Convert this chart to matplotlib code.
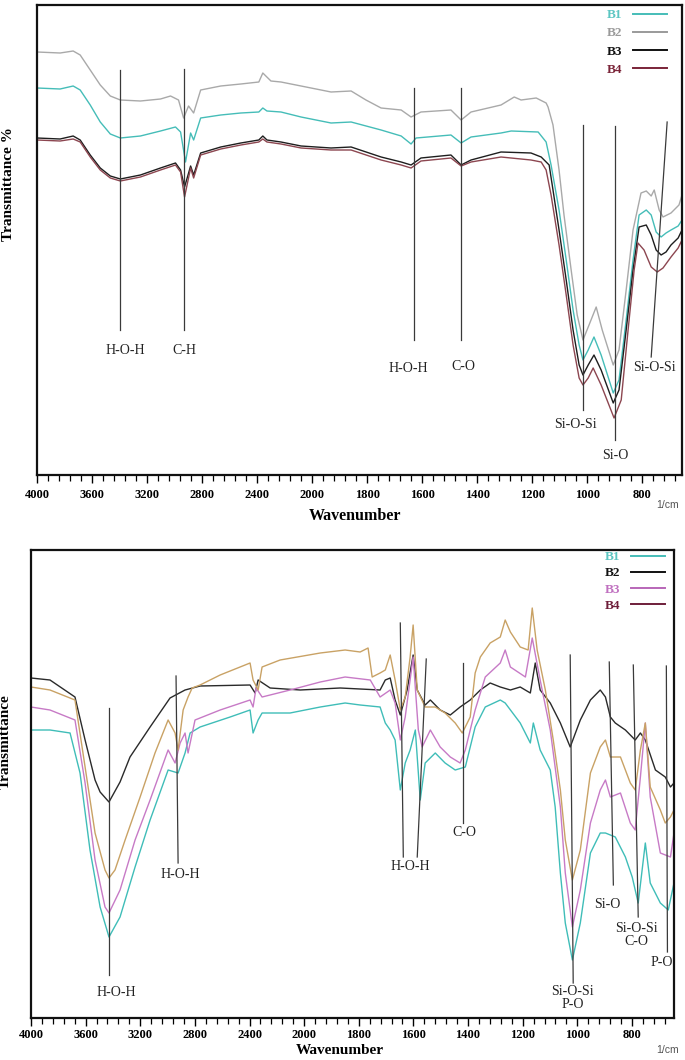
import numpy as np
import matplotlib
matplotlib.use("Agg")
import matplotlib.pyplot as plt
from matplotlib.lines import Line2D

plt.rcParams['font.family'] = ['Liberation Serif', 'DejaVu Serif']

# ---------------- Top panel data (wavenumber, transmittance a.u.) ----------------
top_wn_B1 = [4000, 3832, 3737, 3686, 3613, 3540, 3467, 3394, 3248, 3102,
             2993, 2956, 2920, 2883, 2861, 2810, 2664, 2518, 2387, 2358,
             2328, 2226, 2080, 1931, 1858, 1749, 1676, 1640, 1622, 1495,
             1458, 1422, 1313, 1276, 1178, 1149, 1131, 1102, 1076, 1051,
             1029, 1015, 996, 975, 949, 905, 884, 858, 833, 811,
             785, 767, 749, 731, 713, 695, 669, 655]
top_T_B1 = [82.4, 82.2, 82.8, 82.0, 79.0, 75.6, 73.2, 72.4, 72.8, 73.8,
            74.6, 73.6, 67.6, 73.4, 72.0, 76.4, 77.0, 77.4, 77.6, 78.4,
            77.8, 77.6, 76.6, 75.4, 75.6, 74.0, 72.8, 71.2, 72.4, 73.0,
            71.4, 72.6, 73.4, 73.8, 73.6, 71.6, 67.0, 58.0, 48.0, 38.0,
            31.0, 28.0, 30.0, 32.6, 29.0, 21.4, 24.0, 36.0, 48.0, 57.0,
            58.0, 57.0, 53.6, 52.6, 53.4, 54.0, 54.8, 56.0]

top_wn_B2 = [4000, 3832, 3737, 3686, 3613, 3540, 3467, 3394, 3248, 3102,
             3029, 2971, 2934, 2898, 2861, 2810, 2664, 2518, 2387, 2358,
             2336, 2299, 2226, 2080, 1931, 1858, 1804, 1749, 1676, 1640,
             1604, 1495, 1458, 1422, 1313, 1265, 1240, 1185, 1149, 1142,
             1124, 1102, 1084, 1058, 1036, 1015, 993, 967, 945, 905,
             884, 858, 833, 804, 785, 767, 756, 738, 724, 695,
             666, 655]
top_T_B2 = [89.6, 89.4, 89.8, 89.0, 86.0, 83.0, 80.8, 80.0, 79.8, 80.2,
            80.8, 80.0, 76.4, 78.8, 77.4, 82.0, 82.8, 83.2, 83.6, 85.4,
            84.8, 83.8, 83.6, 82.8, 81.6, 81.8, 80.0, 78.4, 78.0, 76.6,
            77.6, 78.0, 76.0, 77.6, 79.0, 80.6, 80.0, 80.4, 79.4, 78.6,
            75.0, 66.0, 57.0, 46.0, 37.0, 32.0, 35.0, 38.6, 34.0, 27.0,
            30.0, 42.0, 54.0, 61.4, 61.8, 60.8, 62.0, 58.0, 56.6, 57.4,
            59.0, 61.0]

top_wn_B3 = [4000, 3832, 3737, 3686, 3613, 3540, 3467, 3394, 3248, 3102,
             2993, 2956, 2927, 2883, 2861, 2810, 2664, 2518, 2387, 2358,
             2328, 2226, 2080, 1931, 1858, 1749, 1676, 1640, 1604, 1495,
             1458, 1422, 1313, 1204, 1167, 1138, 1124, 1102, 1076, 1051,
             1029, 1015, 996, 975, 949, 905, 884, 858, 833, 811,
             785, 767, 749, 731, 713, 695, 669, 655]
top_T_B3 = [72.4, 72.2, 72.8, 72.0, 69.0, 66.4, 64.8, 64.2, 65.0, 66.4,
            67.4, 66.0, 62.6, 66.8, 65.0, 69.4, 70.6, 71.4, 72.0, 72.8,
            72.0, 71.6, 70.8, 70.4, 70.6, 68.6, 67.6, 67.0, 68.4, 69.0,
            67.0, 68.0, 69.6, 69.4, 68.6, 67.0, 62.0, 54.0, 44.0, 34.0,
            27.0, 25.0, 27.0, 29.0, 26.0, 19.4, 22.0, 34.0, 46.0, 54.6,
            55.0, 53.0, 50.0, 49.0, 49.6, 51.0, 52.4, 54.0]

top_wn_B4 = [4000, 3832, 3737, 3686, 3613, 3540, 3467, 3394, 3248, 3102,
             2993, 2956, 2927, 2883, 2861, 2810, 2664, 2518, 2387, 2358,
             2328, 2226, 2080, 1931, 1858, 1749, 1676, 1640, 1604, 1495,
             1458, 1422, 1313, 1204, 1167, 1149, 1131, 1102, 1076, 1051,
             1029, 1015, 996, 978, 949, 902, 876, 851, 829, 815,
             793, 767, 745, 724, 695, 669, 655]
top_T_B4 = [72.0, 71.8, 72.2, 71.6, 68.6, 66.0, 64.4, 63.8, 64.6, 66.0,
            67.0, 65.6, 60.6, 66.4, 64.4, 69.0, 70.2, 71.0, 71.6, 72.2,
            71.6, 71.2, 70.4, 70.0, 70.0, 68.0, 67.0, 66.4, 67.8, 68.4,
            66.8, 67.6, 68.6, 68.0, 67.6, 66.0, 61.0, 51.0, 41.0, 31.0,
            24.4, 23.0, 24.4, 26.4, 23.0, 16.4, 20.0, 34.0, 46.0, 51.4,
            50.0, 46.6, 45.6, 46.4, 48.6, 50.4, 52.0]

# ---------------- Bottom panel data ----------------
bot_wn_B1 = [4000, 3861, 3714, 3641, 3568, 3494, 3429, 3348, 3238, 3128,
             2996, 2923, 2872, 2835, 2762, 2542, 2396, 2374, 2337, 2308,
             2103, 1941, 1850, 1795, 1722, 1703, 1685, 1667, 1648, 1630,
             1612, 1593, 1575, 1557, 1520, 1484, 1447, 1410, 1374, 1337,
             1282, 1264, 1209, 1172, 1161, 1136, 1099, 1081, 1062, 1044,
             1018, 989, 952, 916, 897, 861, 824, 799, 777, 751,
             733, 696, 667, 646]
bot_T_B1 = [66.0, 66.0, 65.4, 57.4, 42.0, 30.6, 24.6, 28.6, 38.6, 48.0,
            58.0, 57.4, 61.4, 65.4, 66.6, 68.6, 70.0, 65.4, 68.0, 69.4,
            69.4, 70.6, 71.4, 71.0, 70.6, 67.4, 66.0, 64.0, 54.0, 59.4,
            62.0, 66.0, 52.0, 59.4, 61.4, 59.4, 58.0, 58.6, 66.6, 70.6,
            72.0, 71.4, 67.4, 63.4, 67.4, 62.0, 58.0, 50.6, 37.4, 27.4,
            20.0, 27.4, 41.4, 45.4, 45.4, 44.6, 40.6, 36.6, 31.4, 43.4,
            35.4, 31.4, 30.0, 35.4]

bot_wn_B2 = [4000, 3861, 3678, 3604, 3531, 3494, 3429, 3348, 3275, 3128,
             2982, 2872, 2762, 2396, 2359, 2337, 2249, 2029, 1868, 1722,
             1703, 1685, 1667, 1648, 1623, 1601, 1586, 1557, 1538, 1502,
             1465, 1429, 1392, 1355, 1319, 1282, 1245, 1209, 1172, 1154,
             1136, 1099, 1062, 1026, 989, 952, 916, 897, 879, 861,
             824, 788, 769, 751, 714, 678, 659, 646]
bot_T_B2 = [76.4, 76.0, 72.6, 64.0, 56.0, 53.6, 51.6, 55.6, 60.6, 66.6,
            72.4, 74.0, 74.8, 75.0, 73.4, 76.0, 74.4, 74.0, 74.4, 74.0,
            76.0, 76.4, 72.0, 69.0, 74.0, 81.0, 74.0, 71.0, 72.0, 70.0,
            69.0, 70.6, 72.0, 74.0, 75.4, 74.6, 74.0, 74.6, 73.4, 79.4,
            74.0, 71.4, 67.4, 62.6, 68.0, 72.0, 74.0, 72.6, 68.6, 67.4,
            66.0, 64.0, 65.4, 64.0, 58.0, 56.6, 54.6, 55.4]

bot_wn_B3 = [4000, 3861, 3678, 3604, 3531, 3458, 3429, 3348, 3238, 3128,
             2996, 2945, 2908, 2872, 2850, 2799, 2615, 2396, 2374, 2352,
             2308, 2103, 1941, 1850, 1758, 1722, 1685, 1667, 1648, 1630,
             1601, 1582, 1568, 1538, 1502, 1465, 1429, 1410, 1374, 1337,
             1282, 1264, 1245, 1190, 1165, 1136, 1099, 1062, 1044, 1018,
             989, 952, 916, 897, 879, 842, 806, 788, 769, 751,
             733, 696, 659, 646]
bot_T_B3 = [70.6, 70.0, 68.0, 55.4, 40.0, 30.6, 29.4, 34.0, 44.0, 52.0,
            62.0, 59.4, 63.4, 65.4, 61.4, 68.0, 70.0, 72.0, 70.6, 74.4,
            72.6, 74.0, 75.6, 76.6, 76.0, 72.6, 74.0, 71.4, 64.0, 68.6,
            80.6, 66.0, 62.6, 66.0, 62.6, 60.6, 59.4, 62.0, 70.0, 76.6,
            79.4, 82.0, 78.6, 76.6, 84.4, 76.0, 66.0, 50.6, 37.4, 26.6,
            34.0, 47.4, 54.0, 56.0, 52.6, 53.4, 47.4, 46.0, 56.6, 67.4,
            52.6, 41.4, 40.6, 45.4]

bot_wn_B4 = [4000, 3861, 3678, 3604, 3531, 3458, 3429, 3385, 3311, 3201,
             3092, 2996, 2945, 2923, 2886, 2850, 2820, 2762, 2615, 2469,
             2396, 2374, 2337, 2308, 2176, 1941, 1850, 1795, 1766, 1751,
             1722, 1703, 1685, 1667, 1648, 1630, 1612, 1601, 1586, 1557,
             1520, 1484, 1447, 1421, 1392, 1374, 1355, 1319, 1282, 1264,
             1245, 1209, 1180, 1165, 1147, 1117, 1088, 1062, 1044, 1018,
             989, 952, 916, 897, 879, 842, 806, 788, 769, 751,
             733, 696, 678, 659, 646]
bot_T_B4 = [74.6, 74.0, 72.0, 58.6, 45.4, 38.0, 36.4, 38.0, 44.0, 52.6,
            61.4, 68.0, 65.4, 62.0, 70.0, 72.6, 74.4, 75.0, 77.0, 78.6,
            79.4, 76.0, 74.0, 78.6, 80.0, 81.4, 82.0, 81.6, 82.4, 76.6,
            77.4, 78.0, 81.0, 76.0, 70.0, 72.6, 80.6, 87.0, 74.0, 70.6,
            70.6, 69.4, 67.4, 65.4, 68.6, 77.4, 80.6, 83.4, 84.6, 88.0,
            85.6, 82.6, 82.0, 90.4, 82.0, 74.0, 64.0, 54.0, 44.0, 36.0,
            42.0, 57.4, 62.6, 64.0, 60.6, 60.6, 55.4, 54.0, 62.0, 67.4,
            54.6, 50.0, 47.4, 48.6, 50.0]

# ---------------- Labels / ticks ----------------
series_labels = ["B1", "B2", "B3", "B4"]
major_ticks = [4000, 3600, 3200, 2800, 2400, 2000, 1800, 1600, 1400, 1200, 1000, 800]

# band markers: (label, wn_top, T_top, wn_bottom, T_bottom, label_wn, label_T)
top_bands = [
    ("H-O-H", 3394, 86.0, 3394, 34.0, 3357, 30.0),
    ("C-H", 2934, 86.2, 2934, 34.0, 2927, 30.0),
    ("H-O-H", 1629, 82.4, 1629, 32.0, 1651, 26.4),
    ("C-O", 1458, 82.4, 1458, 32.0, 1451, 26.8),
    ("Si-O-Si", 1015, 75.0, 1015, 18.0, 1044, 15.2),
    ("Si-O", 898, 74.8, 898, 12.0, 898, 9.0),
    ("Si-O-Si", 709, 75.6, 767, 28.6, 756, 26.6),
]
bot_bands = [
    ("H-O-H", 3429, 70.4, 3429, 17.0, 3377, 13.6),
    ("H-O-H", 2938, 76.8, 2923, 39.4, 2908, 37.0),
    ("", 1648, 87.4, 1637, 40.6, 1612, 38.6),
    ("H-O-H", 1553, 80.2, 1586, 40.6, 1612, 38.6),
    ("C-O", 1418, 79.4, 1418, 47.4, 1414, 45.4),
    ("Si-O-Si\nP-O", 1026, 81.0, 1015, 15.4, 1018, 12.4),
    ("Si-O", 883, 79.6, 868, 35.0, 890, 31.2),
    ("Si-O-Si\nC-O", 795, 79.0, 777, 28.6, 784, 25.0),
    ("P-O", 674, 78.8, 670, 21.6, 690, 19.4),
]

top_curve_colors = ["#45bdb8", "#a9a9a9", "#1e1e1e", "#8c4650"]
top_text_colors = ["#5cc6c2", "#9a9a9a", "#111111", "#7a2438"]
top_handle_colors = ["#45bdb8", "#9a9a9a", "#111111", "#7a2438"]
bot_curve_colors = ["#3fbdb8", "#2a2a2a", "#c77ac6", "#c9a265"]
bot_text_colors = ["#5cc6c2", "#111111", "#c070c0", "#6e1e3a"]
bot_handle_colors = ["#45bdb8", "#111111", "#b866b8", "#6e1e3a"]


def fwd(w):
    w = np.asarray(w, dtype=float)
    return np.where(w >= 2000, (w - 2000) / 400.0, (w - 2000) / 200.0)


def inv(u):
    u = np.asarray(u, dtype=float)
    return np.where(u >= 0, u * 400.0 + 2000, u * 200.0 + 2000)


fig = plt.figure(figsize=(6.85, 10.6), dpi=100)
ax1 = fig.add_axes([37 / 685, 1 - 475 / 1060, 645 / 685, 470 / 1060])
ax2 = fig.add_axes([31 / 685, 1 - 1018 / 1060, 643 / 685, 468 / 1060])

minor_ticks = list(np.arange(4000, 2000, -80)) + list(np.arange(2000, 640, -40))


def setup(ax, xmax_end, ylim, pad):
    ax.set_xscale('function', functions=(fwd, inv))
    ax.set_xlim(4000, xmax_end)
    ax.set_ylim(*ylim)
    ax.set_xticks(major_ticks)
    ax.set_xticks([t for t in minor_ticks if t >= xmax_end and t not in major_ticks], minor=True)
    ax.set_xticklabels([str(t) for t in major_ticks], fontweight='bold', fontsize=9)
    ax.tick_params(axis='x', which='major', direction='out', length=6, width=1.0, pad=pad)
    ax.tick_params(axis='x', which='minor', direction='out', length=4, width=0.9)
    ax.set_yticks([])
    for s in ax.spines.values():
        s.set_linewidth(1.6)
        s.set_color('#111111')


setup(ax1, 655, (5.0, 99.0), 4)
setup(ax2, 646, (8.4, 102.0), 2)

top_series = [(top_wn_B1, top_T_B1), (top_wn_B2, top_T_B2), (top_wn_B3, top_T_B3), (top_wn_B4, top_T_B4)]
for (wn, t), c in zip(top_series, top_curve_colors):
    ax1.plot(wn, t, color=c, lw=1.0)

bot_series = [(bot_wn_B1, bot_T_B1), (bot_wn_B2, bot_T_B2), (bot_wn_B3, bot_T_B3), (bot_wn_B4, bot_T_B4)]
for (wn, t), c in zip(bot_series, bot_curve_colors):
    ax2.plot(wn, t, color=c, lw=1.0)

for ax, bands in ((ax1, top_bands), (ax2, bot_bands)):
    for lab, w1, t1, w2, t2, lw_, lt_ in bands:
        ax.plot([w1, w2], [t1, t2], color='#3a3a3a', lw=0.9, zorder=4)
        if lab:
            ax.text(lw_, lt_, lab, ha='center', va='center', fontsize=10,
                    color='#222222', linespacing=1.05, zorder=5)

# legends
for ax, hcols, tcols, anchor, spacing in (
        (ax1, top_handle_colors, top_text_colors, ((667 - 37) / 645, (475 - 9) / 470), 0.45),
        (ax2, bot_handle_colors, bot_text_colors, ((665 - 31) / 643, (1018 - 551) / 468), 0.3)):
    handles = [Line2D([], [], color=c, lw=1.4) for c in hcols]
    ax.legend(handles, series_labels, loc='upper right', bbox_to_anchor=anchor,
              markerfirst=False, frameon=False, labelcolor=tcols,
              prop={'weight': 'bold', 'size': 9.5, 'family': ['Liberation Serif']},
              handlelength=2.6, handletextpad=0.8, labelspacing=spacing,
              borderpad=0, borderaxespad=0)

# axis titles
ax1.set_ylabel("Transmittance %", fontweight='bold', fontsize=11)
ax1.yaxis.set_label_coords(-0.034, 0.62)
ax2.set_ylabel("Transmittance", fontweight='bold', fontsize=11)
ax2.yaxis.set_label_coords(-0.03, 0.59)

fig.text(355 / 685, 1 - 516 / 1060, "Wavenumber", ha='center', va='center',
         fontweight='bold', fontsize=11.5)
fig.text(340 / 685, 1 - 1051 / 1060, "Wavenumber", ha='center', va='center',
         fontweight='bold', fontsize=11)
fig.text(668 / 685, 1 - 505 / 1060, "1/cm", ha='center', va='center',
         fontsize=7.5, color='#555555', family=['Liberation Sans', 'DejaVu Sans'])
fig.text(668 / 685, 1 - 1050 / 1060, "1/cm", ha='center', va='center',
         fontsize=7.5, color='#555555', family=['Liberation Sans', 'DejaVu Sans'])

fig.savefig("out.png", dpi=100)
